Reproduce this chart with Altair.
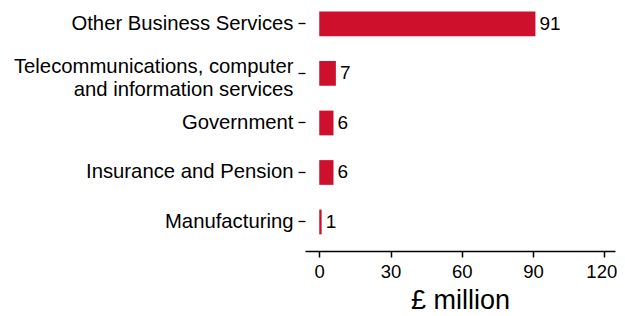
import altair as alt
import pandas as pd

categories = [
    "Other Business Services",
    "Telecommunications, computer\nand information services",
    "Government",
    "Insurance and Pension",
    "Manufacturing",
]
values = [91, 7, 6, 6, 1]
x_ticks = [0, 30, 60, 90, 120]

df = pd.DataFrame({"cat": categories, "value": values})

FONT = "Liberation Sans"
RED = "#CF102D"

y_enc = alt.Y(
    "cat:N",
    sort=categories,
    scale=alt.Scale(paddingInner=0.5, paddingOuter=0.2045, align=0.178),
    axis=alt.Axis(
        title=None,
        domain=False,
        ticks=True,
        tickSize=7,
        tickColor="black",
        tickWidth=1.3,
        labelFont=FONT,
        labelFontSize=20.3,
        labelColor="black",
        labelPadding=5,
        labelLimit=400,
        labelLineHeight=23,
        labelExpr="split(datum.label, '\\n')",
        labelOffset={"condition": {"test": "length(datum.label) > 40", "value": -6}, "value": 0},
    ),
)

x_enc = alt.X(
    "value:Q",
    scale=alt.Scale(domain=[-6, 124.5], nice=False, zero=False),
    axis=alt.Axis(
        title="£ million",
        values=x_ticks,
        grid=False,
        domain=True,
        domainColor="black",
        domainWidth=1.5,
        tickColor="black",
        tickSize=6,
        tickWidth=1.5,
        labelFont=FONT,
        labelFontSize=18.5,
        labelColor="black",
        labelPadding=5,
        labelOffset={"condition": {"test": "datum.value == 120", "value": -3}, "value": 0},
        titleFont=FONT,
        titleFontSize=27,
        titleFontWeight="normal",
        titleColor="black",
        titlePadding=7,
    ),
)

bars = alt.Chart(df).mark_bar(color=RED).encode(
    x=x_enc,
    x2=alt.datum(0),
    y=y_enc,
)

labels = alt.Chart(df).mark_text(
    align="left", baseline="middle", dx=4, font=FONT, fontSize=19, color="black"
).encode(
    x=alt.X("value:Q"),
    y=alt.Y("cat:N", sort=categories),
    text=alt.Text("value:Q", format="d"),
)

chart = (
    alt.layer(bars, labels)
    .properties(
        width=310,
        height=243,
        autosize=alt.AutoSizeParams(type="none"),
        padding={"left": 297, "top": 0, "right": 2, "bottom": 62},
        background="white",
    )
    .configure_view(stroke=None)
)

chart.save("out.html", embed_options={"renderer": "svg", "actions": False})
